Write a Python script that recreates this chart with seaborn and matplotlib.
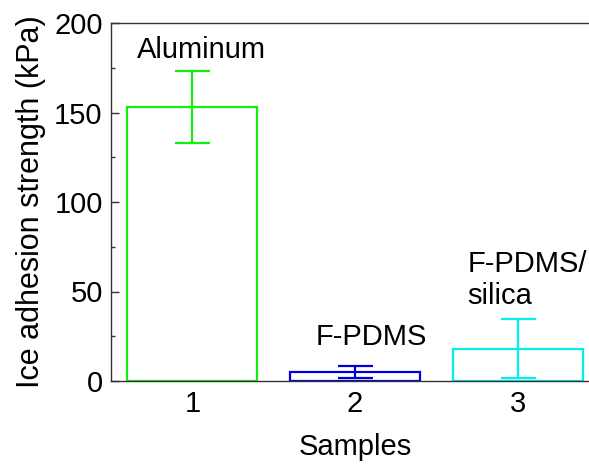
import matplotlib
matplotlib.use("Agg")
import matplotlib.pyplot as plt
from matplotlib.ticker import MultipleLocator
import seaborn as sns
import pandas as pd

# Ice adhesion strength per sample (kPa), mean and error
samples = ["1", "2", "3"]
strength = [153.0, 4.8, 18.0]
error = [20.3, 3.4, 16.5]
sample_names = ["Aluminum", "F-PDMS", "F-PDMS/\nsilica"]
colors = ["#11f011", "#0000dd", "#00f0f0"]

df = pd.DataFrame({"Samples": samples, "strength": strength})

sns.set_theme(style="ticks", rc={"ytick.direction": "in", "xtick.direction": "in",
                                 "text.color": "black", "axes.labelcolor": "black",
                                 "xtick.color": "black", "ytick.color": "black"})
plt.rcParams["font.family"] = ["Liberation Sans", "DejaVu Sans"]

fig = plt.figure(figsize=(5.89, 4.66), dpi=100)
ax = fig.add_axes([111 / 589, 85 / 466, 488 / 589, 358 / 466])

sns.barplot(data=df, x="Samples", y="strength", hue="Samples",
            palette=colors, fill=False, linewidth=1.6, width=0.8,
            legend=False, ax=ax)

for i, (m, e, c) in enumerate(zip(strength, error, colors)):
    ax.errorbar(i, m, yerr=e, color=c, capsize=12.6, capthick=1.6,
                elinewidth=1.6, fmt="none", zorder=3)

# sample names above the bars
ax.text(0.054, 180.4, sample_names[0], ha="center", va="baseline", fontsize=21, color="black")
ax.text(1.099, 20.1, sample_names[1], ha="center", va="baseline", fontsize=21, color="black")
ax.text(1.69, 43.0, sample_names[2], ha="left", va="baseline", fontsize=21,
        color="black", linespacing=1.2)

ax.set_xlim(-0.5, 2.5)
ax.set_ylim(0, 200)
ax.yaxis.set_major_locator(MultipleLocator(50))
ax.yaxis.set_minor_locator(MultipleLocator(25))
ax.tick_params(axis="y", which="major", direction="in", length=6, width=1,
               color="#333333", labelsize=21, labelcolor="black", pad=6, left=True)
ax.tick_params(axis="y", which="minor", direction="in", length=3, width=1,
               color="#333333", left=True)
ax.tick_params(axis="x", which="both", length=0, labelsize=21, labelcolor="black", pad=6.5)

ax.set_xlabel("Samples", fontsize=21, labelpad=11, color="black")
ax.set_ylabel("Ice adhesion strength (kPa)", fontsize=22, labelpad=6, color="black")

for side in ["left", "bottom", "top"]:
    ax.spines[side].set_color("#333333")
    ax.spines[side].set_linewidth(1.0)
    ax.spines[side].set_visible(True)
ax.spines["right"].set_visible(False)
ax.grid(False)

fig.savefig("out.png", dpi=100)
